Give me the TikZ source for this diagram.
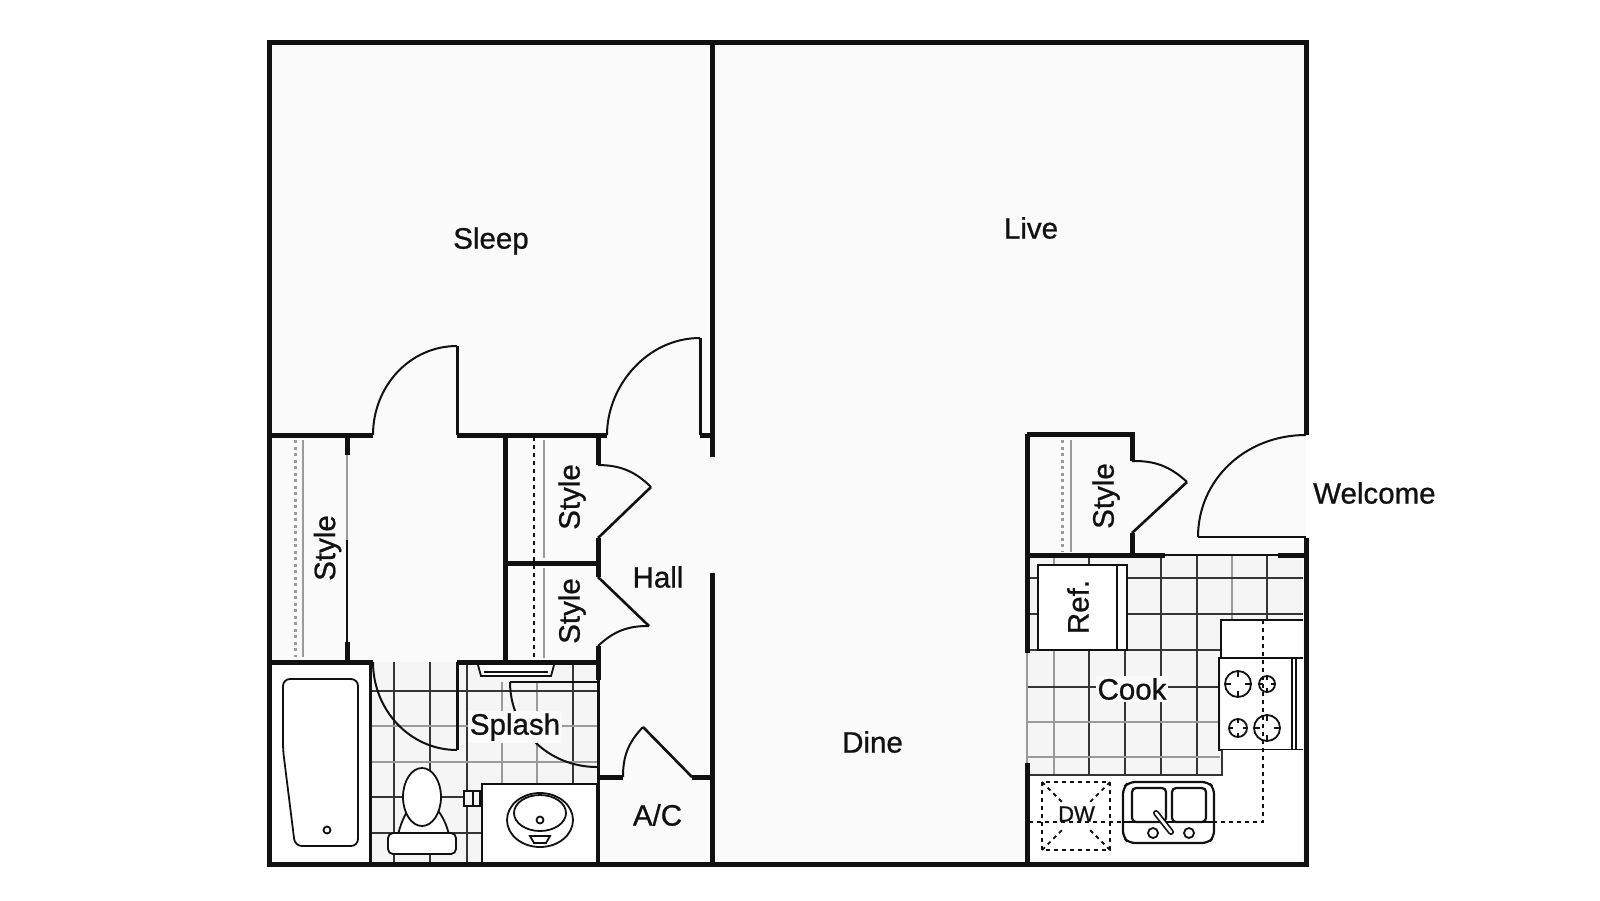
\documentclass[tikz,border=0pt]{standalone}
\usepackage{fontspec}
\setmainfont[FakeBold=0.8]{Liberation Sans}
\definecolor{ink}{HTML}{111111}
\definecolor{room}{HTML}{F9FAF9}
\definecolor{tile}{HTML}{F4F5F4}
\definecolor{soft}{HTML}{9A9A9A}
\newcommand{\burner}[3]{%
  \draw[fix] (#1,#2) circle[radius=#3pt];
  \draw[fix] ({#1-#3},#2) -- ({#1-0.55*#3},#2) ({#1+#3},#2) -- ({#1+0.55*#3},#2)
    (#1,{#2-#3}) -- (#1,{#2-0.55*#3}) (#1,{#2+#3}) -- (#1,{#2+0.55*#3});}
\tikzset{
  wall/.style={line width=5pt,draw=ink},
  thinwall/.style={line width=3pt,draw=ink},
  swing/.style={line width=2pt,draw=ink},
  fix/.style={line width=1.8pt,draw=ink},
  grid/.style={line width=1.7pt,draw=ink!85},
  softgrid/.style={line width=2.5pt,draw=soft},
  dashline/.style={line width=1.8pt,draw=ink,dash pattern=on 4pt off 4pt},
  dotgray/.style={line width=3pt,draw=soft,dash pattern=on 3pt off 3.5pt},
  label/.style={font=\fontsize{29.5}{33}\selectfont,text=ink,inner sep=1pt},
  halo/.style={label,fill=room,inner sep=2pt}
}
\begin{document}
\begin{tikzpicture}[x=1pt,y=-1pt]
\useasboundingbox (0,0) rectangle (1600,900);
\fill[white] (0,0) rectangle (1600,900);
\fill[room] (269,42) rectangle (1306,864);
% tile floors
\fill[tile] (370,662) rectangle (597,864);
\fill[tile] (1027,555) rectangle (1303,750);
\fill[tile] (1027,750) rectangle (1222,775);
% bathroom grid
\draw[grid] (394,662) -- (394,864) (430,662) -- (430,864) (467,662) -- (467,864) (482,784) -- (482,864) (573,662) -- (573,784);
\draw[softgrid] (502,682) -- (502,784) (537,682) -- (537,784);
\draw[grid] (370,691) -- (597,691) (370,797) -- (482,797) (370,833) -- (482,833);
\draw[softgrid] (370,726) -- (597,726) (370,762) -- (597,762);
% kitchen grid
\draw[grid] (1161,555) -- (1161,775) (1197,555) -- (1197,775) (1267,555) -- (1267,620) (1125,650) -- (1125,775) (1089,555) -- (1089,775);
\draw[softgrid] (1232,555) -- (1232,620) (1054,555) -- (1054,775);
\draw[grid] (1027,578) -- (1303,578) (1027,614) -- (1303,614) (1027,650) -- (1220,650) (1027,687) -- (1220,687);
\draw[softgrid] (1027,722) -- (1220,722) (1027,757) -- (1220,757);
% closets' rods
\draw[dotgray] (295,440) -- (295,657);
\draw[softgrid] (303,440) -- (303,657);
\draw[dashline] (534,437) -- (534,660);
\draw[softgrid] (544,440) -- (544,558) (544,568) -- (544,658);
\draw[dotgray] (1062,440) -- (1062,552);
\draw[softgrid] (1071,440) -- (1071,552);
% fixtures: fridge
\draw[fix,fill=white] (1038,565) rectangle (1127,650);
\draw[fix] (1117,565) -- (1117,650);
% counter and range
\fill[white] (1221,620) rectangle (1303,750);
\draw[fix] (1303,620) -- (1221,620) -- (1221,658);
\draw[fix] (1303,658) -- (1219,658) -- (1219,750) -- (1303,750);
\draw[fix] (1292,658) -- (1292,750) (1296,658) -- (1296,750);
\burner{1238}{684}{13}
\burner{1267}{684}{8}
\burner{1238}{728}{9}
\burner{1267}{728}{13}
\fill[white] (1030,775) rectangle (1303,860);
\fill[white] (1222,750) rectangle (1303,775);
\draw[grid] (1027,775) -- (1222,775) -- (1222,750);
% dashed wall cabinet line
\draw[dashline] (1263,620) -- (1263,822) -- (1030,822);
% dishwasher
\draw[dashline] (1042,782) rectangle (1110,850);
\draw[dashline] (1042,782) -- (1062,802) (1110,782) -- (1090,802) (1042,850) -- (1062,830) (1110,850) -- (1090,830);
% kitchen sink
\draw[line width=2.2pt,draw=ink,fill=white,rounded corners=6pt] (1123,788) -- (1129,782) -- (1208,782) -- (1214,788) -- (1214,837) -- (1208,843) -- (1129,843) -- (1123,837) -- cycle;
\draw[line width=2.2pt,draw=ink,rounded corners=4pt] (1132,788) rectangle (1166,822);
\draw[line width=2.2pt,draw=ink,rounded corners=4pt] (1172,788) rectangle (1206,822);
\draw[fix] (1123,822) -- (1214,822);
\draw[line width=6pt,draw=ink,line cap=round] (1156,813) -- (1171,832);
\draw[line width=2.6pt,draw=white,line cap=round] (1156,813) -- (1171,832);
\draw[fix] (1153,833) circle[radius=5pt] (1189,833) circle[radius=5pt];
% tub
\fill[white] (271,664) rectangle (370,862);
\draw[fix,rounded corners=7pt] (283,679) -- (358,679) -- (358,846) -- (295,846) -- (283,750) -- cycle;
\draw[fix] (327,830) circle[radius=3.5pt];
% toilet
\draw[fix,fill=white] (398,835) .. controls (401,822) and (405,815) .. (409,808) -- (436,808) .. controls (442,815) and (447,825) .. (449,835) -- cycle;
\draw[fix,fill=white] (422,797) circle[x radius=19pt,y radius=29pt];
\draw[fix,fill=white,rounded corners=5pt] (388,833) rectangle (456,854);
\draw[fix,fill=tile] (464,791) rectangle (480,806);
\draw[fix] (473,791) -- (473,806);
% vanity
\draw[fix,fill=white] (482,864) -- (482,784) -- (597,784) -- (597,864);
\draw[fix] (540,820) circle[x radius=33pt,y radius=27pt];
\draw[fix] (540,813) circle[x radius=26pt,y radius=18pt];
\draw[fix] (540,820) circle[radius=3.5pt];
\draw[fix] (530,836) -- (550,836) -- (546,843) -- (534,843) -- cycle;
% towel bar
\draw[fix,fill=white] (478,665) -- (481,676) -- (551,676) -- (554,665);
\draw[fix] (484,672) -- (548,672);
% door swings
\draw[swing] (373,435) .. controls (373,386) and (410,346) .. (457,346);
\draw[swing] (607,435) .. controls (607,386) and (647,338) .. (700,338);
\draw[swing] (373,662) .. controls (373,710) and (410,750) .. (457,750);
\draw[swing] (510,682) .. controls (510,730) and (549,767) .. (597,767);
\draw[swing] (598,465) to[bend left=22] (651,487);
\draw[swing] (598,646) to[bend right=-22] (649,626);
\draw[swing] (623,777) to[bend left=22] (643,727);
\draw[swing] (1132,461) to[bend left=22] (1187,482);
\draw[swing] (1198,537) .. controls (1198,480) and (1245,435) .. (1306,435);
% door leaves
\draw[line width=2.6pt,draw=ink] (651,487) -- (598,538) (598,577) -- (649,626) (643,727) -- (692,777) (1187,482) -- (1132,533);
\draw[thinwall] (457,346) -- (457,435) (700,338) -- (700,435) (457,662) -- (457,750);
\draw[line width=2.6pt,draw=ink] (510,682) -- (597,682) (1198,537) -- (1306,537);
% walls
\draw[wall] (1306,435) -- (1306,42) -- (269,42) -- (269,864) -- (1306,864) -- (1306,538);
\draw[wall] (712,42) -- (712,457) (712,573) -- (712,864);
\draw[wall] (269,435) -- (373,435) (457,435) -- (607,435) (700,435) -- (712,435);
\draw[wall] (269,662) -- (373,662) (457,662) -- (597,662);
\draw[wall] (347,435) -- (347,455) (347,642) -- (347,662);
\draw[line width=2.4pt,draw=soft] (347,455) -- (347,540);
\draw[line width=2.4pt,draw=ink] (347,540) -- (347,642);
\draw[wall] (505,435) -- (505,662) (505,563) -- (598,563);
\draw[wall] (598,435) -- (598,465) (598,538) -- (598,577) (598,646) -- (598,680);
\draw[thinwall] (598,680) -- (598,864);
\draw[wall] (598,777) -- (623,777) (692,777) -- (712,777);
\draw[wall] (1027,434) -- (1132,434) -- (1132,461) (1132,533) -- (1132,555);
\draw[wall] (1027,434) -- (1027,653) (1027,763) -- (1027,864);
\draw[line width=2pt,draw=soft] (1027,653) -- (1027,763);
\draw[wall] (1027,555) -- (1165,555) (1278,555) -- (1306,555);
\draw[line width=2.4pt,draw=ink] (1165,555) -- (1278,555);
\draw[thinwall] (370,662) -- (370,864);
% labels
\node[label] (sleep) at (491,241) {Sleep};
\node[label] (live) at (1031,228) {Live};
\node[label,anchor=west] (welcome) at (1312,493) {Welcome};
\node[label] (dine) at (872.5,742) {Dine};
\node[label] (hall) at (658,577) {Hall};
\node[label] (ac) at (657.5,815) {A/C};
\node[halo] (splash) at (515,727) {Splash};
\node[halo] (cook) at (1132,689) {Cook};
\node[label,rotate=90] (style1) at (327.5,548) {Style};
\node[label,rotate=90] (style2) at (572,497) {Style};
\node[label,rotate=90] (style3) at (572,611) {Style};
\node[label,rotate=90] (style4) at (1106,496) {Style};
\node[label,rotate=90] (ref) at (1078,607) {Ref.};
\node[label,font=\fontsize{22}{26}\selectfont] (dw) at (1076.5,814) {DW};
\end{tikzpicture}
\end{document}
